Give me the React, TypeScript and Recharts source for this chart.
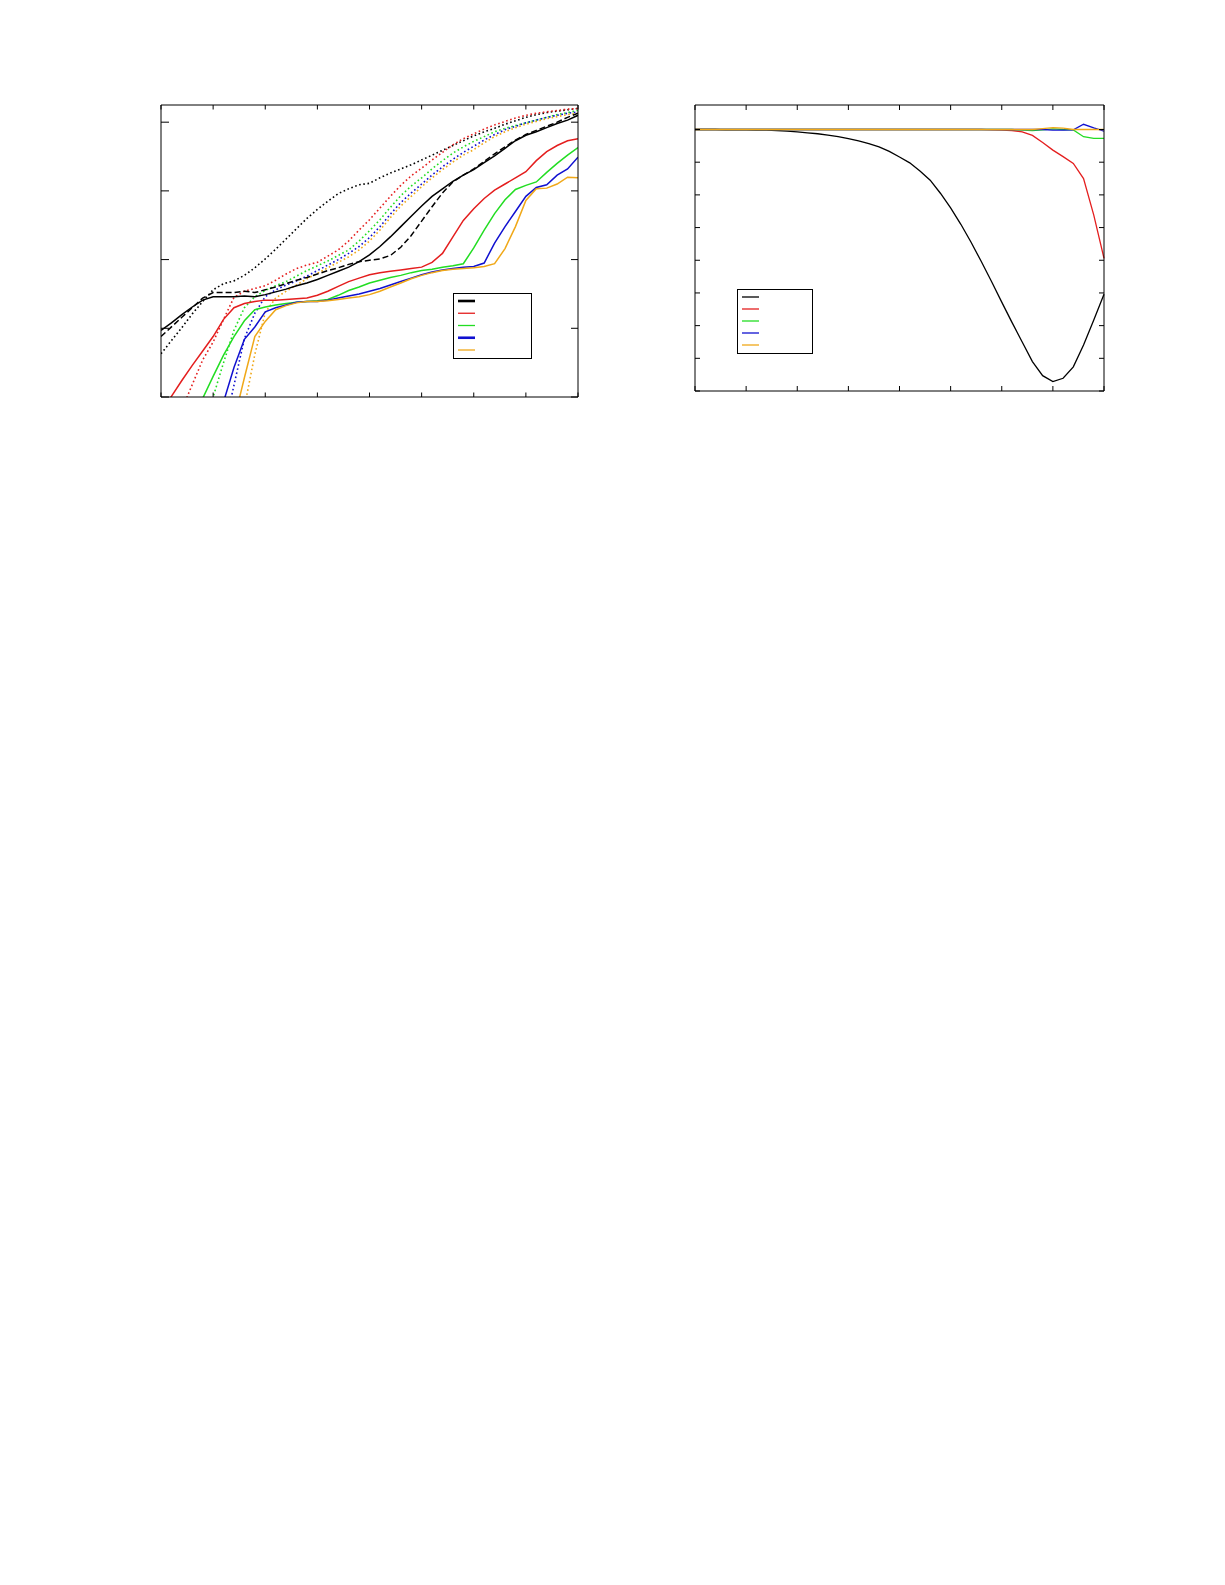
import { LineChart, Line, XAxis, YAxis, Legend } from 'recharts'

// sample positions shared by both panels
const X_VALUES = [
  0, 0.2, 0.4, 0.6, 0.8, 1, 1.2, 1.4, 1.6, 1.8, 2, 2.2, 2.4, 2.6, 2.8, 3, 3.2, 3.4, 3.6, 3.8, 4,
  4.2, 4.4, 4.6, 4.8, 5, 5.2, 5.4, 5.6, 5.8, 6, 6.2, 6.4, 6.6, 6.8, 7, 7.2, 7.4, 7.6, 7.8, 8,
]
const X_TICKS = [0, 1, 2, 3, 4, 5, 6, 7, 8]
const LEFT_Y_TICKS = [0, 1, 2, 3, 4]
const RIGHT_Y_TICKS = [0.2, 0.3, 0.4, 0.5, 0.6, 0.7, 0.8, 0.9, 1.0]

// left panel
const blackSolid = [0.97, 1.08, 1.2, 1.31, 1.41, 1.46, 1.46, 1.46, 1.47, 1.46, 1.49, 1.53, 1.57, 1.62, 1.66, 1.71, 1.77, 1.83, 1.89, 1.97, 2.07, 2.19, 2.33, 2.48, 2.63, 2.78, 2.92, 3.03, 3.14, 3.23, 3.31, 3.41, 3.51, 3.62, 3.73, 3.81, 3.86, 3.92, 3.98, 4.03, 4.1]
const blackDashed = [0.88, 1.02, 1.16, 1.3, 1.44, 1.52, 1.52, 1.52, 1.54, 1.52, 1.56, 1.6, 1.65, 1.7, 1.74, 1.79, 1.84, 1.88, 1.93, 1.97, 1.99, 2.01, 2.06, 2.18, 2.35, 2.56, 2.77, 2.97, 3.13, 3.23, 3.32, 3.43, 3.54, 3.64, 3.74, 3.82, 3.88, 3.94, 4.0, 4.07, 4.13]
const blackDotted = [0.63, 0.82, 1.01, 1.21, 1.39, 1.56, 1.65, 1.69, 1.77, 1.88, 2.01, 2.15, 2.3, 2.45, 2.6, 2.73, 2.85, 2.96, 3.03, 3.09, 3.11, 3.19, 3.26, 3.32, 3.38, 3.45, 3.52, 3.59, 3.66, 3.73, 3.8, 3.86, 3.91, 3.97, 4.02, 4.07, 4.11, 4.14, 4.16, 4.18, 4.2]
const redSolid = [-0.22, 0.01, 0.24, 0.46, 0.67, 0.88, 1.13, 1.3, 1.36, 1.39, 1.41, 1.41, 1.42, 1.43, 1.44, 1.48, 1.54, 1.61, 1.68, 1.73, 1.78, 1.81, 1.83, 1.85, 1.87, 1.89, 1.96, 2.09, 2.33, 2.57, 2.74, 2.89, 3.01, 3.1, 3.19, 3.28, 3.44, 3.57, 3.66, 3.73, 3.76]
const greenSolid = [null, null, null, null, -0.02, 0.3, 0.61, 0.88, 1.11, 1.27, 1.31, 1.34, 1.36, 1.38, 1.39, 1.4, 1.42, 1.48, 1.55, 1.6, 1.66, 1.7, 1.74, 1.77, 1.81, 1.84, 1.86, 1.89, 1.91, 1.94, 2.17, 2.43, 2.67, 2.87, 3.02, 3.08, 3.13, 3.27, 3.4, 3.52, 3.63]
const blueSolid = [null, null, null, null, null, null, -0.07, 0.43, 0.84, 1.02, 1.24, 1.3, 1.34, 1.38, 1.39, 1.39, 1.41, 1.44, 1.47, 1.5, 1.54, 1.58, 1.63, 1.68, 1.73, 1.78, 1.82, 1.85, 1.87, 1.89, 1.9, 1.95, 2.24, 2.48, 2.7, 2.92, 3.05, 3.09, 3.23, 3.32, 3.49]
const orangeSolid = [null, null, null, null, null, null, null, -0.34, 0.28, 0.88, 1.1, 1.27, 1.33, 1.37, 1.39, 1.39, 1.4, 1.42, 1.44, 1.46, 1.49, 1.54, 1.6, 1.66, 1.72, 1.77, 1.81, 1.84, 1.86, 1.87, 1.88, 1.9, 1.94, 2.16, 2.48, 2.86, 3.03, 3.04, 3.1, 3.2, 3.19]
const redDotted = [null, null, -0.18, 0.18, 0.54, 0.8, 1.13, 1.45, 1.54, 1.58, 1.62, 1.7, 1.79, 1.87, 1.92, 1.96, 2.05, 2.14, 2.27, 2.43, 2.58, 2.75, 2.92, 3.08, 3.22, 3.33, 3.45, 3.56, 3.67, 3.76, 3.83, 3.9, 3.96, 4.01, 4.06, 4.1, 4.13, 4.15, 4.17, 4.19, 4.2]
const greenDotted = [null, null, null, null, -0.5, 0.0, 0.5, 0.97, 1.3, 1.46, 1.55, 1.62, 1.68, 1.76, 1.84, 1.91, 1.98, 2.06, 2.14, 2.27, 2.42, 2.58, 2.76, 2.93, 3.07, 3.19, 3.32, 3.44, 3.55, 3.64, 3.72, 3.79, 3.86, 3.91, 3.95, 3.99, 4.03, 4.07, 4.11, 4.14, 4.17]
const blueDotted = [null, null, null, null, null, null, -0.5, 0.17, 0.85, 1.22, 1.46, 1.56, 1.63, 1.69, 1.76, 1.84, 1.92, 2.0, 2.09, 2.19, 2.32, 2.48, 2.66, 2.83, 2.97, 3.1, 3.23, 3.35, 3.46, 3.56, 3.65, 3.74, 3.82, 3.89, 3.94, 3.99, 4.03, 4.07, 4.1, 4.13, 4.15]
const orangeDotted = [null, null, null, null, null, null, null, null, -0.15, 0.62, 1.23, 1.44, 1.54, 1.63, 1.72, 1.8, 1.88, 1.96, 2.04, 2.14, 2.27, 2.43, 2.61, 2.78, 2.92, 3.06, 3.19, 3.31, 3.42, 3.52, 3.6, 3.7, 3.79, 3.86, 3.92, 3.97, 4.01, 4.05, 4.08, 4.11, 4.13]

// right panel
const black2 = [1.0, 1.0, 1.0, 0.999, 0.999, 0.999, 0.998, 0.998, 0.997, 0.995, 0.993, 0.99, 0.987, 0.983, 0.978, 0.972, 0.965, 0.957, 0.947, 0.933, 0.916, 0.898, 0.873, 0.845, 0.805, 0.76, 0.71, 0.655, 0.596, 0.535, 0.472, 0.41, 0.35, 0.29, 0.247, 0.229, 0.239, 0.274, 0.341, 0.417, 0.496]
const red2 = [1, 1, 1, 1, 1, 1, 1, 1, 1, 1, 1, 1, 1, 1, 1, 1, 1, 1, 1, 1, 1, 1, 1, 1, 1, 1, 1, 1, 1, 0.999, 0.998, 0.997, 0.993, 0.982, 0.96, 0.937, 0.917, 0.896, 0.85, 0.738, 0.606]
const green2 = [1, 1, 1, 1, 1, 1, 1, 1, 1, 1, 1, 1, 1, 1, 1, 1, 1, 1, 1, 1, 1, 1, 1, 1, 1, 1, 1, 1, 1, 1, 1, 1, 0.998, 0.997, 0.999, 1.002, 1.0, 0.999, 0.978, 0.973, 0.973]
const blue2 = [1, 1, 1, 1, 1, 1, 1, 1, 1, 1, 1, 1, 1, 1, 1, 1, 1, 1, 1, 1, 1, 1, 1, 1, 1, 1, 1, 1, 1, 1, 1, 1, 1, 1, 1, 0.998, 0.998, 0.999, 1.016, 1.005, 0.995]
const orange2 = [1, 1, 1, 1, 1, 1, 1, 1, 1, 1, 1, 1, 1, 1, 1, 1, 1, 1, 1, 1, 1, 1, 1, 1, 1, 1, 1, 1, 1, 1, 1, 1, 1, 1, 1.003, 1.006, 1.004, 1.0, 1.0, 1.0, 1.0]

const BLACK = '#000000'
const RED = '#e41e1e'
const GREEN = '#22dd22'
const BLUE = '#1010d0'
const ORANGE = '#f0a818'
const DOTS = '1.6 2.6'
const THIN = 0.01 // mirrored axes need a non-zero size to be drawn

const leftRows = X_VALUES.map((x, i) => ({
  x,
  bs: blackSolid[i], bd: blackDashed[i], bt: blackDotted[i],
  rs: redSolid[i], gs: greenSolid[i], ls: blueSolid[i], os: orangeSolid[i],
  rt: redDotted[i], gt: greenDotted[i], lt: blueDotted[i], ot: orangeDotted[i],
}))

const rightRows = X_VALUES.map((x, i) => ({
  x, k: black2[i], r: red2[i], g: green2[i], b: blue2[i], o: orange2[i],
}))

// the figure has tick marks but no labels
const noLabel = () => <g />

function KeyBox(props: any) {
  const { payload = [], order, widths, w, h, step } = props
  const items = order.map((k: string) => payload.find((p: any) => p.dataKey === k)).filter(Boolean)
  return (
    <svg width={w} height={h} style={{ display: 'block' }}>
      <rect x={0.5} y={0.5} width={w - 1} height={h - 1} fill="#fff" stroke="#000" strokeWidth={1} />
      {items.map((p: any, i: number) => (
        <line key={p.dataKey} x1={5} x2={22} y1={8 + i * step} y2={8 + i * step} stroke={p.color} strokeWidth={widths[i]} />
      ))}
    </svg>
  )
}

export default function App() {
  const axisStroke = { stroke: '#000', strokeWidth: 1 }
  return (
    <div style={{ position: 'relative', width: 1209, height: 420 }}>
      <div style={{ position: 'absolute', left: 143, top: 87 }}>
        <LineChart width={437} height={312} data={leftRows} margin={{ top: 10, right: 10, bottom: 10, left: 10 }}>
          <XAxis xAxisId="b" dataKey="x" type="number" domain={[0, 8]} ticks={X_TICKS} interval={0} orientation="bottom" mirror height={THIN} tick={noLabel} tickSize={4.5} axisLine={axisStroke} tickLine={axisStroke} allowDataOverflow />
          <XAxis xAxisId="t" dataKey="x" type="number" domain={[0, 8]} ticks={X_TICKS} interval={0} orientation="top" mirror height={THIN} tick={noLabel} tickSize={4.5} axisLine={axisStroke} tickLine={axisStroke} allowDataOverflow />
          <YAxis yAxisId="l" type="number" domain={[0, 4.25]} ticks={LEFT_Y_TICKS} interval={0} orientation="left" mirror width={THIN} tick={noLabel} tickSize={8} axisLine={axisStroke} tickLine={axisStroke} allowDataOverflow />
          <YAxis yAxisId="r" type="number" domain={[0, 4.25]} ticks={LEFT_Y_TICKS} interval={0} orientation="right" mirror width={THIN} tick={noLabel} tickSize={7} axisLine={axisStroke} tickLine={axisStroke} allowDataOverflow />
          <Legend
            layout="vertical"
            align="center"
            verticalAlign="middle"
            wrapperStyle={{ left: 302, top: 198, width: 79, height: 66 }}
            content={<KeyBox order={['bs', 'rs', 'gs', 'ls', 'os']} widths={[2.6, 1.3, 1.3, 2.6, 1.3]} w={79} h={66} step={12.25} />}
          />
          <Line xAxisId="b" yAxisId="l" dataKey="bt" stroke={BLACK} strokeWidth={1.6} strokeDasharray={DOTS} dot={false} legendType="none" isAnimationActive={false} type="linear" />
          <Line xAxisId="b" yAxisId="l" dataKey="rt" stroke={RED} strokeWidth={1.6} strokeDasharray={DOTS} dot={false} legendType="none" isAnimationActive={false} type="linear" />
          <Line xAxisId="b" yAxisId="l" dataKey="gt" stroke={GREEN} strokeWidth={1.6} strokeDasharray={DOTS} dot={false} legendType="none" isAnimationActive={false} type="linear" />
          <Line xAxisId="b" yAxisId="l" dataKey="lt" stroke={BLUE} strokeWidth={1.6} strokeDasharray={DOTS} dot={false} legendType="none" isAnimationActive={false} type="linear" />
          <Line xAxisId="b" yAxisId="l" dataKey="ot" stroke={ORANGE} strokeWidth={1.6} strokeDasharray={DOTS} dot={false} legendType="none" isAnimationActive={false} type="linear" />
          <Line xAxisId="b" yAxisId="l" dataKey="bd" stroke={BLACK} strokeWidth={1.5} strokeDasharray="6 3" dot={false} legendType="none" isAnimationActive={false} type="linear" />
          <Line xAxisId="b" yAxisId="l" dataKey="bs" stroke={BLACK} strokeWidth={1.5} dot={false} isAnimationActive={false} type="linear" />
          <Line xAxisId="b" yAxisId="l" dataKey="rs" stroke={RED} strokeWidth={1.5} dot={false} isAnimationActive={false} type="linear" />
          <Line xAxisId="b" yAxisId="l" dataKey="gs" stroke={GREEN} strokeWidth={1.5} dot={false} isAnimationActive={false} type="linear" />
          <Line xAxisId="b" yAxisId="l" dataKey="ls" stroke={BLUE} strokeWidth={1.5} dot={false} isAnimationActive={false} type="linear" />
          <Line xAxisId="b" yAxisId="l" dataKey="os" stroke={ORANGE} strokeWidth={1.5} dot={false} isAnimationActive={false} type="linear" />
        </LineChart>
      </div>
      <div style={{ position: 'absolute', left: 677, top: 87 }}>
        <LineChart width={429} height={306} data={rightRows} margin={{ top: 10, right: 10, bottom: 10, left: 10 }}>
          <XAxis xAxisId="b" dataKey="x" type="number" domain={[0, 8]} ticks={X_TICKS} interval={0} orientation="bottom" mirror height={THIN} tick={noLabel} tickSize={5} axisLine={axisStroke} tickLine={axisStroke} />
          <XAxis xAxisId="t" dataKey="x" type="number" domain={[0, 8]} ticks={X_TICKS} interval={0} orientation="top" mirror height={THIN} tick={noLabel} tickSize={5} axisLine={axisStroke} tickLine={axisStroke} />
          <YAxis yAxisId="l" type="number" domain={[0.2, 1.075]} ticks={RIGHT_Y_TICKS} interval={0} orientation="left" mirror width={THIN} tick={noLabel} tickSize={5} axisLine={axisStroke} tickLine={axisStroke} allowDataOverflow />
          <YAxis yAxisId="r" type="number" domain={[0.2, 1.075]} ticks={RIGHT_Y_TICKS} interval={0} orientation="right" mirror width={THIN} tick={noLabel} tickSize={5} axisLine={axisStroke} tickLine={axisStroke} allowDataOverflow />
          <Legend
            layout="vertical"
            align="center"
            verticalAlign="middle"
            wrapperStyle={{ left: 52, top: 194, width: 76, height: 65 }}
            content={<KeyBox order={['k', 'r', 'g', 'b', 'o']} widths={[1.3, 1.3, 1.3, 1.3, 1.3]} w={76} h={65} step={12} />}
          />
          <Line xAxisId="b" yAxisId="l" dataKey="k" stroke={BLACK} strokeWidth={1.3} dot={false} isAnimationActive={false} type="linear" />
          <Line xAxisId="b" yAxisId="l" dataKey="r" stroke={RED} strokeWidth={1.3} dot={false} isAnimationActive={false} type="linear" />
          <Line xAxisId="b" yAxisId="l" dataKey="g" stroke={GREEN} strokeWidth={1.3} dot={false} isAnimationActive={false} type="linear" />
          <Line xAxisId="b" yAxisId="l" dataKey="b" stroke={BLUE} strokeWidth={1.3} dot={false} isAnimationActive={false} type="linear" />
          <Line xAxisId="b" yAxisId="l" dataKey="o" stroke={ORANGE} strokeWidth={1.3} dot={false} isAnimationActive={false} type="linear" />
        </LineChart>
      </div>
    </div>
  )
}
